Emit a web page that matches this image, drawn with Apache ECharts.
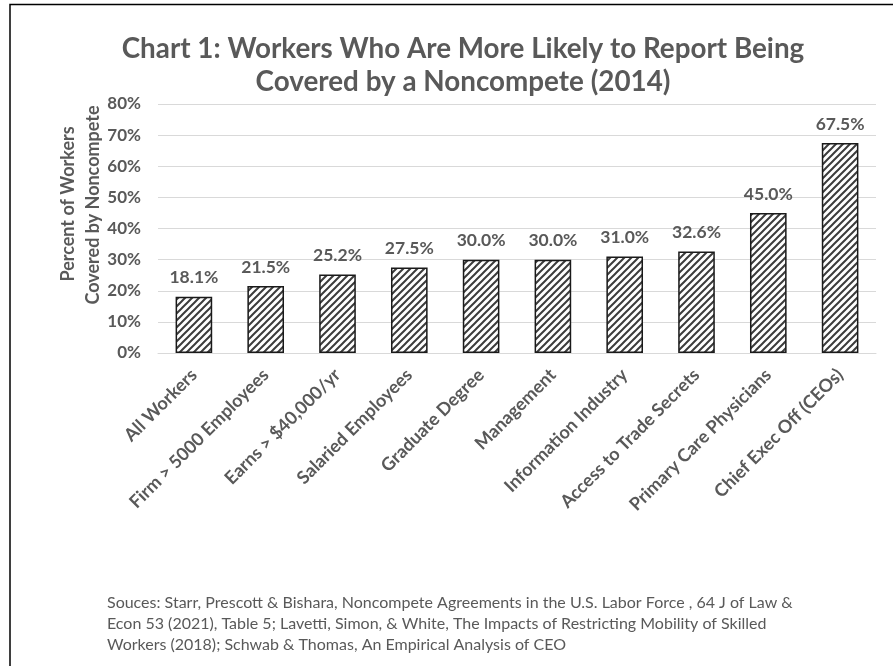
<!DOCTYPE html>
<html><head><meta charset="utf-8">
<script src="https://cdn.jsdelivr.net/npm/echarts@6/dist/echarts.min.js"></script>
<style>html,body{margin:0;padding:0;background:#fff}#c{width:893px;height:666px}</style>
</head><body><div id="c"></div>
<script>
const categories = ['All Workers','Firm > 5000 Employees','Earns > $40,000/yr','Salaried Employees','Graduate Degree','Management','Information Industry','Access to Trade Secrets','Primary Care Physicians','Chief Exec Off (CEOs)'];
const values = [18.1,21.5,25.2,27.5,30.0,30.0,31.0,32.6,45.0,67.5];
const yTicks = [0,10,20,30,40,50,60,70,80];
const titleText = 'Chart 1: Workers Who Are More Likely to Report Being\nCovered by a Noncompete (2014)';
const yTitleLines = ['Percent of Workers','Covered by Noncompete'];
const sourceLines = [
 'Souces: Starr, Prescott & Bishara, Noncompete Agreements in the U.S. Labor Force , 64 J of Law &',
 'Econ 53 (2021), Table 5; Lavetti, Simon, & White, The Impacts of Restricting Mobility of Skilled',
 'Workers (2018); Schwab & Thomas, An Empirical Analysis of CEO'
];

const tile = document.createElement('canvas');
tile.width = 7; tile.height = 7;
const g = tile.getContext('2d');
g.fillStyle = '#fff'; g.fillRect(0,0,7,7);
g.strokeStyle = '#3c3c3c'; g.lineWidth = 2;
g.beginPath();
g.moveTo(-1,8); g.lineTo(8,-1);
g.moveTo(-2,2); g.lineTo(2,-2);
g.moveTo(5,9); g.lineTo(9,5);
g.stroke();

const FONT = 'Lato, "Open Sans", sans-serif';
const TXT = '#595959';
const chart = echarts.init(document.getElementById('c'), null, {renderer:'canvas'});
chart.setOption({
  animation: false,
  backgroundColor: '#fff',
  title: {
    text: titleText, left: 458, top: 28, textAlign: 'center',
    textStyle: {fontFamily: FONT, fontWeight: 'bold', fontSize: 27.8, color: TXT, lineHeight: 33}
  },
  grid: {left: 158, right: 17, top: 104, bottom: 313},
  xAxis: {
    type: 'category', data: categories,
    axisLine: {lineStyle: {color: '#d9d9d9', width: 1}},
    axisTick: {show: false},
    axisLabel: {interval: 0, rotate: 45, margin: 19, fontFamily: FONT, fontWeight: 'bold', fontSize: 18, color: TXT}
  },
  yAxis: {
    type: 'value', min: yTicks[0], max: yTicks[yTicks.length-1], interval: 10,
    axisLine: {show: false}, axisTick: {show: false},
    splitLine: {lineStyle: {color: '#d9d9d9', width: 1}},
    axisLabel: {margin: 17, formatter: v => v + '%', fontFamily: FONT, fontWeight: 'bold', fontSize: 17, color: TXT}
  },
  series: [{
    type: 'bar', data: values, barWidth: '51%',
    itemStyle: {color: {image: tile, repeat: 'repeat'}, borderColor: '#1a1a1a', borderWidth: 1.5},
    label: {show: true, position: 'top', distance: 10, formatter: p => p.value.toFixed(1) + '%',
      fontFamily: FONT, fontWeight: 'bold', fontSize: 17.5, color: TXT}
  }],
  graphic: [
    {type: 'rect', silent: true, shape: {x: 10, y: 4.5, width: 1000, height: 1000},
     style: {fill: 'none', stroke: '#000', lineWidth: 1.5}},
    {type: 'text', x: 68, y: 204, rotation: Math.PI/2,
     style: {text: yTitleLines[0], textAlign: 'center', textVerticalAlign: 'middle', fontFamily: FONT, fontWeight: 'bold', fontSize: 18, fill: TXT}},
    {type: 'text', x: 93, y: 205, rotation: Math.PI/2,
     style: {text: yTitleLines[1], textAlign: 'center', textVerticalAlign: 'middle', fontFamily: FONT, fontWeight: 'bold', fontSize: 18, fill: TXT}},
    {type: 'text', x: 107, y: 603,
     style: {text: sourceLines[0], textVerticalAlign: 'middle', fontFamily: FONT, fontSize: 16, fill: TXT}},
    {type: 'text', x: 107, y: 624,
     style: {text: sourceLines[1], textVerticalAlign: 'middle', fontFamily: FONT, fontSize: 16, fill: TXT}},
    {type: 'text', x: 107, y: 645,
     style: {text: sourceLines[2], textVerticalAlign: 'middle', fontFamily: FONT, fontSize: 16, fill: TXT}}
  ]
});
</script></body></html>
